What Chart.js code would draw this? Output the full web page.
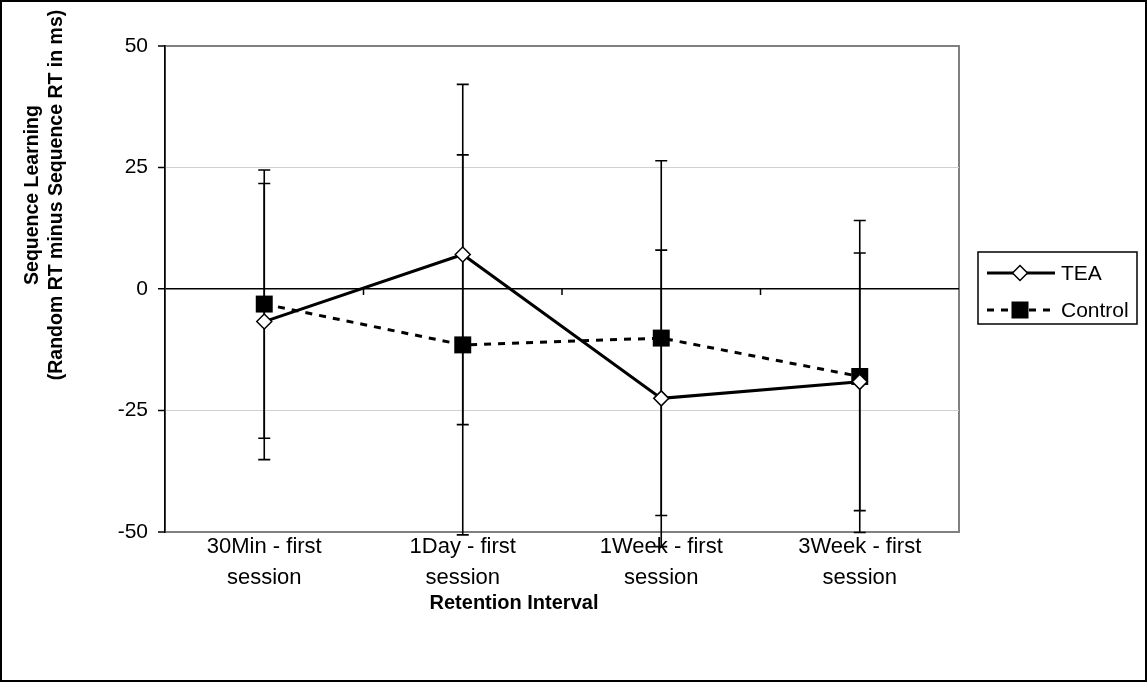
<!DOCTYPE html>
<html>
<head>
<meta charset="utf-8">
<script src="https://cdn.jsdelivr.net/npm/chart.js@4.4.1/dist/chart.umd.min.js"></script>
<style>
  body{margin:0;background:#fff;}
  canvas{display:block;}
</style>
</head>
<body>
<canvas id="c" width="1147" height="682"></canvas>
<script>
// data
const categories = [['30Min - first','session'],['1Day - first','session'],['1Week - first','session'],['3Week - first','session']];
const teaValues = [-6.7, 7.1, -22.5, -19.1];
const teaErr = [28.4, 35.0, 30.5, 26.5];
const controlValues = [-3.1, -11.5, -10.1, -18.0];
const controlErr = [27.6, 39.1, 36.5, 32.1];
const yTicks = [-50, -25, 0, 25, 50];
const yTitle = ['Sequence Learning', '(Random RT minus Sequence RT in ms)'];
const xTitle = 'Retention Interval';

const FONT = '"Liberation Sans", Arial, sans-serif';

// white background, outer frame, plot-area frame
const framePlugin = {
  id:'frame',
  beforeDraw(chart){
    const {ctx, chartArea:a} = chart;
    ctx.save();
    ctx.fillStyle='#fff';
    ctx.fillRect(0,0,chart.width,chart.height);
    ctx.strokeStyle='#000'; ctx.lineWidth=2;
    ctx.strokeRect(1,1,chart.width-2,chart.height-2);
    ctx.strokeStyle='#808080'; ctx.lineWidth=2;
    ctx.strokeRect(a.left,a.top,a.right-a.left,a.bottom-a.top);
    ctx.restore();
  }
};

// error bars, drawn behind the markers
const errorPlugin = {
  id:'errbars',
  beforeDatasetsDraw(chart){
    const {ctx, scales:{x,y}} = chart;
    ctx.save();
    ctx.strokeStyle='#000'; ctx.lineWidth=1.6;
    chart.data.datasets.forEach(ds=>{
      ds.data.forEach((v,i)=>{
        const e = ds.err[i];
        const px = x.getPixelForValue(i);
        const top = y.getPixelForValue(v+e), bot = y.getPixelForValue(v-e);
        ctx.beginPath();
        ctx.moveTo(px,top); ctx.lineTo(px,bot);
        ctx.moveTo(px-6,top); ctx.lineTo(px+6,top);
        ctx.moveTo(px-6,bot); ctx.lineTo(px+6,bot);
        ctx.stroke();
      });
    });
    // small tick marks on the zero line between categories
    const y0 = y.getPixelForValue(0);
    ctx.lineWidth=1.5;
    ctx.beginPath();
    for(let i=0;i<categories.length-1;i++){
      const bx = (x.getPixelForValue(i)+x.getPixelForValue(i+1))/2;
      ctx.moveTo(bx,y0); ctx.lineTo(bx,y0+6);
    }
    ctx.stroke();
    ctx.restore();
  }
};

function drawMarker(ctx, style, cx, cy){
  ctx.beginPath();
  if(style==='rectRot'){
    ctx.moveTo(cx-7.5,cy); ctx.lineTo(cx,cy-7.5); ctx.lineTo(cx+7.5,cy); ctx.lineTo(cx,cy+7.5); ctx.closePath();
    ctx.fillStyle='#fff'; ctx.fill();
    ctx.strokeStyle='#000'; ctx.lineWidth=1.5; ctx.stroke();
  } else {
    ctx.rect(cx-8.5,cy-8.5,17,17);
    ctx.fillStyle='#000'; ctx.fill();
  }
}

// titles and legend
const textPlugin = {
  id:'texts',
  afterDraw(chart){
    const {ctx} = chart;
    ctx.save();
    ctx.fillStyle='#000';
    ctx.font='bold 20px '+FONT;
    ctx.textAlign='center'; ctx.textBaseline='middle';
    ctx.fillText(xTitle, 514, 603);
    ctx.font='bold 19.5px '+FONT;
    ctx.translate(33,195);
    ctx.rotate(-Math.PI/2);
    yTitle.forEach((t,i)=>ctx.fillText(t,0,i*24));
    ctx.restore();

    // legend box
    ctx.save();
    ctx.strokeStyle='#000'; ctx.lineWidth=1.5;
    ctx.strokeRect(978,252,159,72);
    chart.data.datasets.forEach((ds,i)=>{
      const ly = 273 + i*37;
      ctx.strokeStyle='#000'; ctx.lineWidth=3;
      ctx.setLineDash(ds.borderDash||[]);
      ctx.beginPath(); ctx.moveTo(987,ly); ctx.lineTo(1055,ly); ctx.stroke();
      ctx.setLineDash([]);
      drawMarker(ctx, ds.pointStyle, 1020, ly);
      ctx.fillStyle='#000';
      ctx.font='21px '+FONT;
      ctx.textAlign='left'; ctx.textBaseline='middle';
      ctx.fillText(ds.label, 1061, ly+1);
    });
    ctx.restore();
  }
};

new Chart(document.getElementById('c'), {
  type:'line',
  data:{
    labels:categories,
    datasets:[
      {label:'TEA', data:teaValues, err:teaErr, borderColor:'#000', borderWidth:3, tension:0,
       pointStyle:'rectRot', pointRadius:7.5, pointBackgroundColor:'#fff', pointBorderColor:'#000', pointBorderWidth:1.5},
      {label:'Control', data:controlValues, err:controlErr, borderColor:'#000', borderWidth:3, borderDash:[7,7], tension:0,
       pointStyle:'rect', pointRadius:12, pointBackgroundColor:'#000', pointBorderColor:'#000', pointBorderWidth:0}
    ]
  },
  options:{
    responsive:false,
    animation:false,
    layout:{padding:{left:0, right:188, top:46, bottom:0}},
    plugins:{legend:{display:false}, tooltip:{enabled:false}},
    scales:{
      x:{
        offset:true,
        afterFit:s=>{ s.height=150; },
        grid:{display:false, drawTicks:false, offset:true},
        border:{display:true, color:'#808080', width:2},
        ticks:{color:'#000', padding:0, maxRotation:0, autoSkip:false, font:{family:FONT, size:22, lineHeight:1.4}}
      },
      y:{
        min:-50, max:50,
        afterFit:s=>{ s.width=165; },
        afterBuildTicks:s=>{ s.ticks = yTicks.map(v=>({value:v})); },
        border:{color:'#000', width:1.5},
        grid:{
          tickLength:7, tickColor:'#000', tickWidth:1.5,
          color:c=>c.tick.value===0?'#000':(Math.abs(c.tick.value)===50?'#808080':'#d0d0d0'),
          lineWidth:c=>c.tick.value===0?1.5:(Math.abs(c.tick.value)===50?2:1)
        },
        ticks:{color:'#000', padding:10, font:{family:FONT, size:21}}
      }
    }
  },
  plugins:[framePlugin, errorPlugin, textPlugin]
});
</script>
</body>
</html>
